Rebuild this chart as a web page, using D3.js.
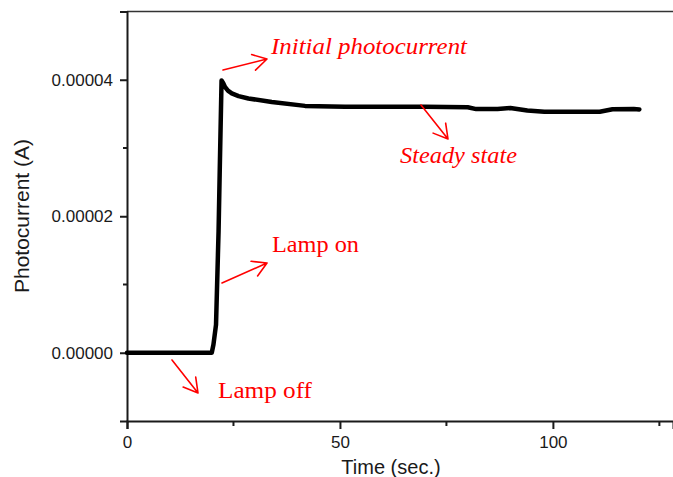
<!DOCTYPE html>
<html>
<head>
<meta charset="utf-8">
<script src="https://cdn.jsdelivr.net/npm/d3@7"></script>
<style>
  html, body { margin: 0; padding: 0; background: #fff; }
  svg { display: block; }
</style>
</head>
<body>
<svg id="chart" width="673" height="477"></svg>
<script>
// Photocurrent response of the device: lamp switched on at ~20 s
const timeSec = [0, 19.9, 20.3, 20.9, 21.5, 21.8, 22.2, 22.6, 23.0, 23.7, 24.6, 26.2, 28.5, 34, 41.8, 51.2, 60, 70, 80, 82, 87, 90, 94, 98, 111, 114, 119, 120.3];
const photocurrentA = [0, 0, 1.2e-6, 4.1e-6, 1.78e-5, 2.75e-5, 3.99e-5, 3.95e-5, 3.895e-5, 3.84e-5, 3.80e-5, 3.76e-5, 3.725e-5, 3.675e-5, 3.617e-5, 3.605e-5, 3.605e-5, 3.605e-5, 3.598e-5, 3.57e-5, 3.57e-5, 3.587e-5, 3.55e-5, 3.53e-5, 3.53e-5, 3.568e-5, 3.57e-5, 3.565e-5];

const xMajorTicks = [0, 50, 100];
const xMinorTicks = [25, 75, 125];
const yMajorTicks = [0, 0.00002, 0.00004];
const yMinorTicks = [0.00001, 0.00003];

const annotationTexts = ["Initial photocurrent", "Steady state", "Lamp on", "Lamp off"];

// Callout layout (pixels): label anchor and arrow from start to tip
const callouts = [
  { text: annotationTexts[0], italic: true,  x: 271, y: 54,  len: 196, from: [223, 70],  to: [267, 59] },
  { text: annotationTexts[1], italic: true,  x: 400, y: 163, len: 117, from: [421, 105], to: [448, 139] },
  { text: annotationTexts[2], italic: false, x: 272, y: 252, len: 87,  from: [222, 283], to: [267, 263] },
  { text: annotationTexts[3], italic: false, x: 218, y: 398, len: 94,  from: [172, 360], to: [198, 393] }
];

const svg = d3.select("#chart");

const x = d3.scaleLinear().domain([0, 128.2]).range([127, 673]);
const y = d3.scaleLinear().domain([-0.00001, 0.00005]).range([421, 11.5]);

const axisColor = "#1a1a1a";
const tickFont = "'Liberation Sans', Arial, sans-serif";

// Top frame line
svg.append("line")
  .attr("x1", x.range()[0]).attr("x2", x.range()[1])
  .attr("y1", y.range()[1]).attr("y2", y.range()[1])
  .attr("stroke", "#333").attr("stroke-width", 1.5);

// Bottom axis
const gx = svg.append("g").attr("transform", `translate(0,${y.range()[0]})`);
gx.call(d3.axisBottom(x).tickValues(xMajorTicks).tickSize(8).tickPadding(7).tickFormat(d3.format("d")));
gx.append("g").selectAll("line").data(xMinorTicks).join("line")
  .attr("x1", d => x(d)).attr("x2", d => x(d)).attr("y1", 0).attr("y2", 5)
  .attr("stroke", axisColor).attr("stroke-width", 2);

// Left axis
const gy = svg.append("g").attr("transform", `translate(${x.range()[0]},0)`);
gy.call(d3.axisLeft(y).tickValues(yMajorTicks).tickSize(7).tickPadding(7).tickFormat(d3.format(".5f")));
gy.append("g").selectAll("line").data(yMinorTicks).join("line")
  .attr("x1", 0).attr("x2", -4).attr("y1", d => y(d)).attr("y2", d => y(d))
  .attr("stroke", axisColor).attr("stroke-width", 2);

[gx, gy].forEach(g => {
  g.select(".domain").attr("stroke", axisColor).attr("stroke-width", 2);
  g.selectAll(".tick line").attr("stroke", axisColor).attr("stroke-width", 2);
  g.selectAll(".tick text").attr("fill", axisColor)
    .style("font-family", tickFont).style("font-size", "17px");
});

// Axis titles
svg.append("text")
  .attr("x", 391).attr("y", 474)
  .attr("text-anchor", "middle")
  .attr("fill", axisColor)
  .style("font-family", tickFont).style("font-size", "20px")
  .text("Time (sec.)");

svg.append("text")
  .attr("transform", "translate(29,216) rotate(-90)")
  .attr("text-anchor", "middle")
  .attr("fill", axisColor)
  .style("font-family", tickFont).style("font-size", "21px")
  .text("Photocurrent (A)");

// Photocurrent trace
const points = timeSec.map((t, i) => [t, photocurrentA[i]]);
svg.append("path")
  .datum(points)
  .attr("fill", "none")
  .attr("stroke", "#000")
  .attr("stroke-width", 4.5)
  .attr("stroke-linejoin", "round")
  .attr("stroke-linecap", "round")
  .attr("d", d3.line().x(d => x(d[0])).y(d => y(d[1])));

// Red callouts with open arrowheads
const red = "#ff0000";
const headLen = 16, headAngle = 30 * Math.PI / 180;
callouts.forEach(c => {
  const [x1, y1] = c.from, [x2, y2] = c.to;
  const back = Math.atan2(y1 - y2, x1 - x2);
  const arms = [back - headAngle, back + headAngle].map(a => [x2 + headLen * Math.cos(a), y2 + headLen * Math.sin(a)]);
  const path = d3.path();
  path.moveTo(x1, y1); path.lineTo(x2, y2);
  path.moveTo(arms[0][0], arms[0][1]); path.lineTo(x2, y2); path.lineTo(arms[1][0], arms[1][1]);
  svg.append("path")
    .attr("d", path.toString())
    .attr("fill", "none")
    .attr("stroke", red)
    .attr("stroke-width", 1.6)
    .attr("stroke-linecap", "round")
    .attr("stroke-linejoin", "round");

  svg.append("text")
    .attr("x", c.x).attr("y", c.y)
    .attr("fill", red)
    .attr("textLength", c.len)
    .attr("lengthAdjust", "spacingAndGlyphs")
    .style("font-family", "'Liberation Serif', 'Times New Roman', serif")
    .style("font-style", c.italic ? "italic" : "normal")
    .style("font-size", "23px")
    .text(c.text);
});
</script>
</body>
</html>
